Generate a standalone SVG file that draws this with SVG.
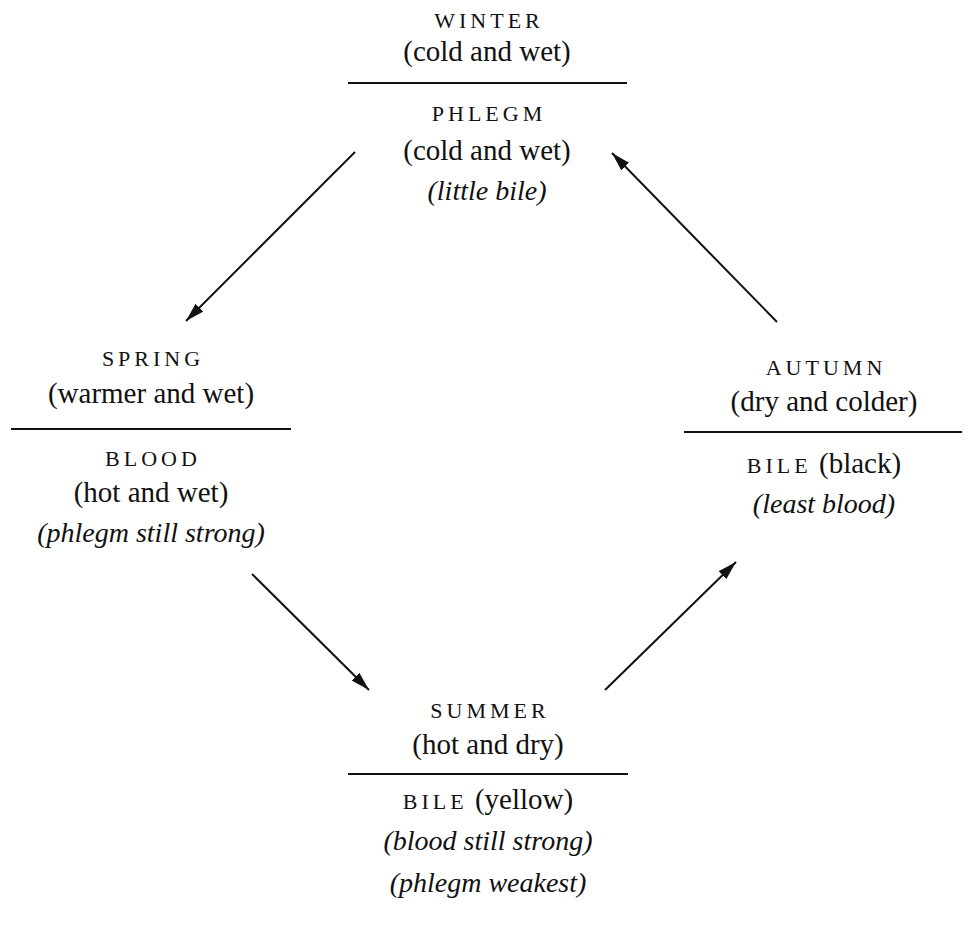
<svg xmlns="http://www.w3.org/2000/svg" width="967" height="927" viewBox="0 0 967 927">
<style>
text{font-family:"Liberation Serif","Times New Roman",serif;fill:#111;text-anchor:middle}
.sc{font-size:22px;letter-spacing:4px}
.rg{font-size:29px}
.it{font-size:28px;font-style:italic}
.rule{stroke:#111;stroke-width:2}
.conn{stroke:#111;stroke-width:2;fill:none;marker-end:url(#ah)}
</style>
<defs>
<marker id="ah" markerUnits="userSpaceOnUse" markerWidth="22" markerHeight="12" refX="19" refY="5.5" orient="auto">
<path d="M0,0 L19,5.5 L0,11 Z" fill="#111"/>
</marker>
</defs>
<rect width="967" height="927" fill="#fff"/>
<g id="winter">
<text class="sc" x="489" y="28">WINTER</text>
<text class="rg" x="487" y="61">(cold and wet)</text>
<line class="rule" x1="348" y1="83" x2="627" y2="83"/>
<text class="sc" x="489" y="121">PHLEGM</text>
<text class="rg" x="487" y="160">(cold and wet)</text>
<text class="it" x="487" y="200">(little bile)</text>
</g>
<g id="spring">
<text class="sc" x="153" y="366">SPRING</text>
<text class="rg" x="151" y="403">(warmer and wet)</text>
<line class="rule" x1="11" y1="429" x2="291" y2="429"/>
<text class="sc" x="153" y="466">BLOOD</text>
<text class="rg" x="151" y="502">(hot and wet)</text>
<text class="it" x="151" y="542">(phlegm still strong)</text>
</g>
<g id="autumn">
<text class="sc" x="826" y="375">AUTUMN</text>
<text class="rg" x="824" y="411">(dry and colder)</text>
<line class="rule" x1="684" y1="432" x2="962" y2="432"/>
<text x="824" y="473"><tspan class="sc">BILE</tspan><tspan class="rg"> (black)</tspan></text>
<text class="it" x="824" y="513">(least blood)</text>
</g>
<g id="summer">
<text class="sc" x="490" y="718">SUMMER</text>
<text class="rg" x="488" y="754">(hot and dry)</text>
<line class="rule" x1="348" y1="774" x2="628" y2="774"/>
<text x="488" y="809"><tspan class="sc">BILE</tspan><tspan class="rg"> (yellow)</tspan></text>
<text class="it" x="488" y="850">(blood still strong)</text>
<text class="it" x="488" y="892">(phlegm weakest)</text>
</g>
<g id="connectors">
<line class="conn" x1="355" y1="152" x2="186" y2="321"/>
<line class="conn" x1="252" y1="574" x2="369" y2="690"/>
<line class="conn" x1="605" y1="690" x2="736" y2="562"/>
<line class="conn" x1="777" y1="322" x2="612" y2="153"/>
</g>
</svg>
